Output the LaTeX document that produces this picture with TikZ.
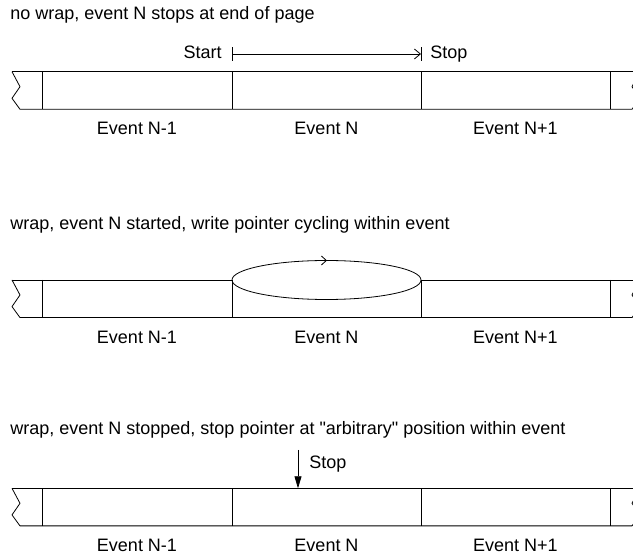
\documentclass[tikz,border=0pt]{standalone}
\usepackage{fontspec}
\setmainfont{Liberation Sans}
\usetikzlibrary{arrows.meta}
\newcommand\mydq{\XeTeXglyph\XeTeXcharglyph"22\relax}
\begin{document}
\begin{tikzpicture}[x=1pt,y=-1pt,line width=0.8pt,
  font=\fontsize{18}{21}\selectfont,
  lbl/.style={inner sep=0pt,anchor=base},
  ttl/.style={inner sep=0pt,anchor=base west},
  rtxt/.style={inner sep=0pt,anchor=base east}]
\useasboundingbox (0,0) rectangle (633,556);
\clip (0,0) rectangle (633,556);

\foreach \i/\T in {1/71.7,2/280,3/488.3}{
  \pgfmathsetmacro\B{\T+37.6}
  \pgfmathsetmacro\Ma{\T+15}
  \pgfmathsetmacro\Mb{\T+26.6}
  \pgfmathsetmacro\Lb{\B+25.7}
  \coordinate (L\i a) at (12,\T);
  \coordinate (L\i b) at (20,\Ma);
  \coordinate (L\i c) at (12,\Mb);
  \coordinate (L\i d) at (20,\B);
  \coordinate (R\i a) at (640,\T);
  \coordinate (R\i b) at (632,\Ma);
  \coordinate (R\i c) at (640,\Mb);
  \coordinate (R\i d) at (632,\B);
  \foreach \x/\n in {42/1,232/2,421/3,610/4}{
    \coordinate (V\i\n t) at (\x,\T);
    \coordinate (V\i\n b) at (\x,\B);
    \draw (V\i\n t) -- (V\i\n b);
  }
  \draw (L\i a) -- (L\i b) -- (L\i c) -- (L\i d) -- (R\i d) -- (R\i c) -- (R\i b) -- (R\i a);
  \draw (L\i a) -- (V\i2t);
  \draw (V\i3t) -- (R\i a);
  \node[lbl] (ev\i a) at (137,\Lb) {Event N-1};
  \node[lbl] (ev\i b) at (326.5,\Lb) {Event N};
  \node[lbl] (ev\i c) at (515.5,\Lb) {Event N+1};
}
\draw (V12t) -- (V13t);
\draw (V32t) -- (V33t);

% titles
\node[ttl] (t1) at (10,20) {no wrap, event N stops at end of page};
\node[ttl] (t2) at (10,230) {wrap, event N started, write pointer cycling within event};
\node[ttl] (t3) at (10,435) {wrap, event N stopped, stop pointer at \mydq arbitrary\mydq{} position within event};

% band 1: start/stop arrow
\coordinate (s1) at (232,54);
\coordinate (e1) at (421,54);
\coordinate (s1t) at (232,47.5);
\coordinate (s1b) at (232,61);
\coordinate (e1t) at (421,47.5);
\coordinate (e1b) at (421,61);
\draw (s1t) -- (s1b);
\draw (e1t) -- (e1b);
\draw[-{Straight Barb[length=6pt,width=10pt]}] (s1) -- (e1);
\node[rtxt] (start) at (222,58.5) {Start};
\node[ttl] (stop1) at (430,58.5) {Stop};

% band 2: write pointer cycling
\coordinate (ec) at (326.5,280);
\draw (ec) ellipse [x radius=94.5, y radius=19.5];
\coordinate (ca) at (318,260.5);
\coordinate (cb) at (327,260.5);
\draw[-{Straight Barb[length=5pt,width=9pt]}] (ca) -- (cb);

% band 3: stop pointer
\coordinate (p3a) at (298,450);
\coordinate (p3b) at (298,488.3);
\draw[-{Triangle[length=12pt,width=7pt]}] (p3a) -- (p3b);
\node[ttl] (stop3) at (309,468.3) {Stop};
\end{tikzpicture}
\end{document}
